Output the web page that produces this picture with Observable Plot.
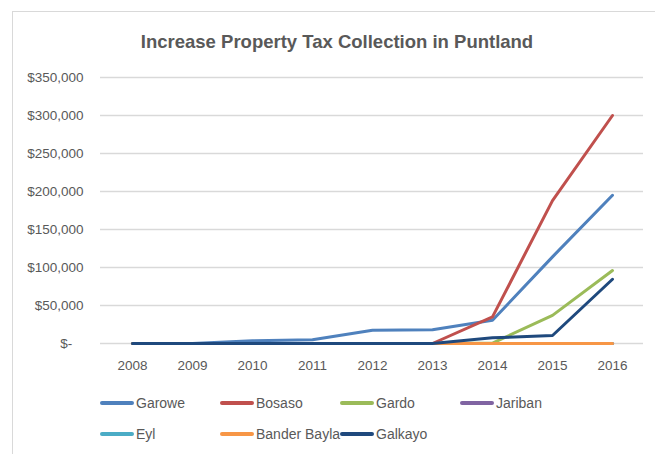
<!DOCTYPE html>
<html>
<head>
<meta charset="utf-8">
<script src="https://cdn.jsdelivr.net/npm/d3@7"></script>
<script src="https://cdn.jsdelivr.net/npm/@observablehq/plot@0.6"></script>
<style>
  html, body { margin: 0; padding: 0; background: #fff; }
  #wrap { position: relative; width: 655px; height: 454px; overflow: hidden; background: #fff;
          font-family: "Liberation Sans", Arial, sans-serif; color: #595959; }
  #frame { position: absolute; left: 12px; top: 11px; width: 700px; height: 500px; border: 1px solid #d9d9d9; }
  #title { position: absolute; left: 0; top: 30px; width: 674px; text-align: center; font-size: 18.5px; font-weight: bold; line-height: 24px; color: #595959; }
  #chart { position: absolute; left: 0; top: 62px; }
  .leg { position: absolute; display: flex; align-items: center; font-size: 14px; color: #595959; white-space: nowrap; }
  .sw { width: 34px; height: 4px; border-radius: 2px; margin-right: 2px; }
</style>
</head>
<body>
<div id="wrap">
  <div id="frame"></div>
  <div id="title">Increase Property Tax Collection in Puntland</div>
  <div id="chart"></div>
  <div id="legend"></div>
</div>
<script>
const years = ["2008","2009","2010","2011","2012","2013","2014","2015","2016"];
const cities = ["Garowe","Bosaso","Gardo","Jariban","Eyl","Bander Bayla","Galkayo"];
const colors = ["#4F81BD","#C0504D","#9BBB59","#8064A2","#4BACC6","#F79646","#1F497D"];
const garowe      = [0, 0, 3500, 5000, 17500, 18000, 30500, 114000, 195000];
const bosaso      = [0, 0, 0, 0, 0, 0, 35000, 188000, 300000];
const gardo       = [0, 0, 0, 0, 0, 0, 500, 37000, 96000];
const jariban     = [0, 0, 0, 0, 0, 0, 0, 0, 0];
const eyl         = [0, 0, 0, 0, 0, 0, 0, 0, 0];
const banderBayla = [0, 0, 0, 0, 0, 0, 0, 0, 0];
const galkayo     = [0, 0, 0, 0, 0, 0, 7500, 10500, 84500];
const yTicks = [0, 50000, 100000, 150000, 200000, 250000, 300000, 350000];

const seriesValues = [garowe, bosaso, gardo, jariban, eyl, banderBayla, galkayo];
const data = [];
cities.forEach((c, i) => years.forEach((y, j) => data.push({city: c, year: y, value: seriesValues[i][j]})));

const fmt = d => d === 0 ? "$-\u00a0\u00a0\u00a0" : "$" + d3.format(",")(d);

const chart = Plot.plot({
  width: 655,
  height: 323,
  marginLeft: 100,
  marginRight: 12,
  marginTop: 15,
  marginBottom: 42,
  style: {fontFamily: '"Liberation Sans", Arial, sans-serif', fontSize: "13.5px", color: "#595959", background: "transparent"},
  x: {type: "point", domain: years, padding: 0.5, label: null},
  y: {domain: [0, 350000], label: null},
  color: {domain: cities, range: colors},
  marks: [
    Plot.ruleY(yTicks, {stroke: "#d9d9d9", strokeWidth: 1.3}),
    Plot.axisY({ticks: yTicks, tickFormat: fmt, tickSize: 0, tickPadding: 17, label: null, fill: "#595959"}),
    Plot.axisX({tickSize: 0, tickPadding: 17, label: null, fill: "#595959"}),
    Plot.line(data, {x: "year", y: "value", z: "city", stroke: "city", strokeWidth: 3, strokeLinejoin: "round", strokeLinecap: "round"})
  ]
});
document.getElementById("chart").appendChild(chart);

const legend = document.getElementById("legend");
cities.forEach((c, i) => {
  const col = i % 4, row = Math.floor(i / 4);
  const el = document.createElement("div");
  el.className = "leg";
  el.style.left = (100 + col * 120) + "px";
  el.style.top = (393 + row * 31) + "px";
  el.style.height = "20px";
  const sw = document.createElement("div");
  sw.className = "sw";
  sw.style.background = colors[i];
  const tx = document.createElement("span");
  tx.textContent = c;
  el.appendChild(sw); el.appendChild(tx);
  legend.appendChild(el);
});
</script>
</body>
</html>
